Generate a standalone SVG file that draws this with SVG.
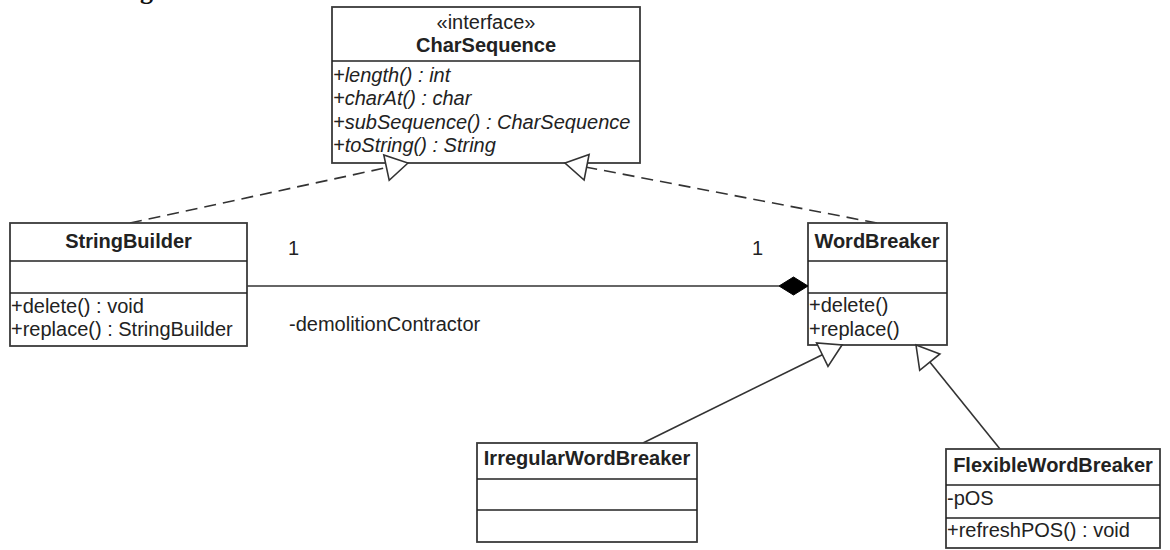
<svg xmlns="http://www.w3.org/2000/svg" width="1170" height="550" viewBox="0 0 1170 550">
<style>
.box{fill:#fff;stroke:#3a3a3a;stroke-width:1.8}
.div{stroke:#222;stroke-width:1.6}
.t{font-family:"Liberation Sans",Arial,sans-serif;font-size:20px;fill:#222}
.b{font-weight:bold}
.i{font-style:italic}
.c{text-anchor:middle}
.ln{fill:none;stroke:#333;stroke-width:1.6}
.dash{stroke-dasharray:12 7}
.tri{fill:#fff;stroke:#333;stroke-width:1.6}
</style>
<rect width="1170" height="550" fill="#fff"/>
<text x="140" y="-1" style="font-family:'Liberation Serif',serif;font-size:26px;font-weight:bold;fill:#111">g</text>
<g id="connectors">
<line class="ln dash" x1="130" y1="223" x2="386.5" y2="167.6"/>
<line class="ln dash" x1="877" y1="223" x2="586.6" y2="167.2"/>
<line class="ln" x1="247" y1="286" x2="779" y2="286"/>
<line class="ln" x1="643" y1="443" x2="822.3" y2="354.7"/>
<line class="ln" x1="1000" y1="449" x2="929.8" y2="362.1"/>
</g>
<g id="CharSequence">
<rect class="box" x="332" y="7" width="308" height="156"/>
<line class="div" x1="332" y1="61" x2="640" y2="61"/>
<text class="t c" x="486" y="29">«interface»</text>
<text class="t b c" x="486" y="52">CharSequence</text>
<text class="t i" x="333" y="82">+length() : int</text>
<text class="t i" x="333" y="105">+charAt() : char</text>
<text class="t i" x="333" y="129">+subSequence() : CharSequence</text>
<text class="t i" x="333" y="152">+toString() : String</text>
</g>
<g id="StringBuilder">
<rect class="box" x="10" y="223" width="237" height="123"/>
<line class="div" x1="10" y1="261" x2="247" y2="261"/>
<line class="div" x1="10" y1="293" x2="247" y2="293"/>
<text class="t b c" x="128.5" y="248">StringBuilder</text>
<text class="t" x="11" y="313">+delete() : void</text>
<text class="t" x="11" y="336">+replace() : StringBuilder</text>
</g>
<g id="WordBreaker">
<rect class="box" x="808" y="223" width="139" height="122"/>
<line class="div" x1="808" y1="261" x2="947" y2="261"/>
<line class="div" x1="808" y1="293" x2="947" y2="293"/>
<text class="t b c" x="877" y="248">WordBreaker</text>
<text class="t" x="809" y="312">+delete()</text>
<text class="t" x="809" y="336">+replace()</text>
</g>
<g id="IrregularWordBreaker">
<rect class="box" x="477" y="443" width="220" height="99"/>
<line class="div" x1="477" y1="479" x2="697" y2="479"/>
<line class="div" x1="477" y1="510" x2="697" y2="510"/>
<text class="t b c" x="587" y="465">IrregularWordBreaker</text>
</g>
<g id="FlexibleWordBreaker">
<rect class="box" x="946" y="449" width="214" height="99"/>
<line class="div" x1="946" y1="485" x2="1160" y2="485"/>
<line class="div" x1="946" y1="518" x2="1160" y2="518"/>
<text class="t b c" x="1053" y="472">FlexibleWordBreaker</text>
<text class="t" x="947" y="505">-pOS</text>
<text class="t" x="947" y="537">+refreshPOS() : void</text>
</g>
<g id="heads">
<polygon class="tri" points="408,163 389.2,180.3 383.8,154.9"/>
<polygon class="tri" points="565,163 589.1,154.4 584.1,180"/>
<polygon class="tri" points="842,345 828,366.4 816.6,343"/>
<polygon class="tri" points="916,345 939.9,353.9 919.7,370.3"/>
<polygon points="779,286 793.5,277 808,286 793.5,295" fill="#000" stroke="#000" stroke-width="1"/>
</g>
<g id="labels">
<text class="t" x="288" y="255">1</text>
<text class="t" x="752" y="255">1</text>
<text class="t" x="289" y="331">-demolitionContractor</text>
</g>
</svg>
